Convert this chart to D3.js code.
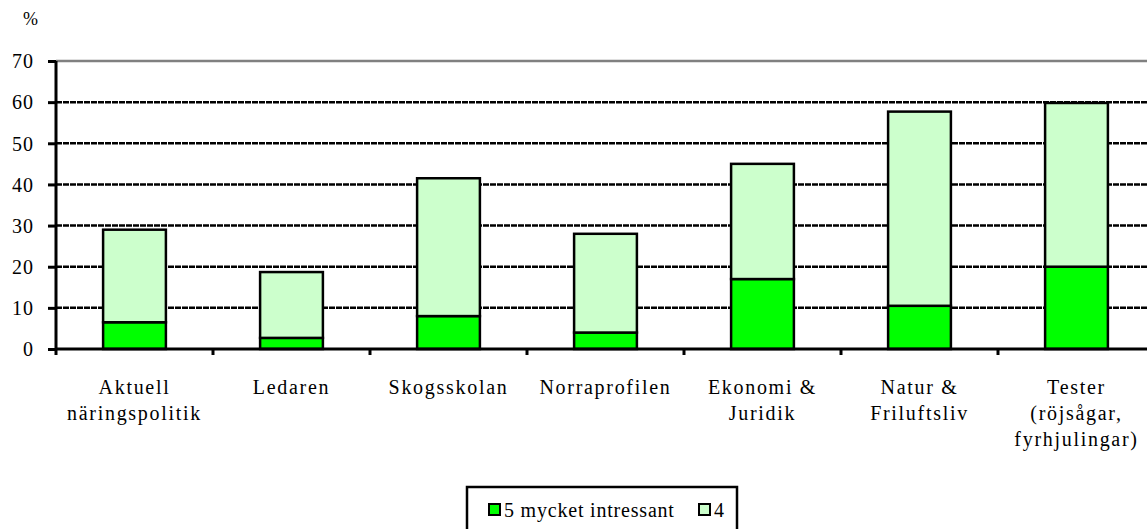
<!DOCTYPE html>
<html>
<head>
<meta charset="utf-8">
<script src="https://cdn.jsdelivr.net/npm/d3@7"></script>
<style>
  body { margin: 0; background: #fff; }
</style>
</head>
<body>
<div id="vis"></div>
<script>
// categories and values
var categories = [
  ["Aktuell", "näringspolitik"],
  ["Ledaren"],
  ["Skogsskolan"],
  ["Norraprofilen"],
  ["Ekonomi &", "Juridik"],
  ["Natur &", "Friluftsliv"],
  ["Tester", "(röjsågar,", "fyrhjulingar)"]
];
var mycket = [6.5, 2.7, 8, 4, 17, 10.5, 20];   // 5 mycket intressant
var fyra = [22.5, 16, 33.5, 24, 28, 47.2, 39.8]; // 4
var yTicks = [0, 10, 20, 30, 40, 50, 60, 70];
var seriesNames = ["5 mycket intressant", "4"];
var colors = ["#00ff00", "#ccffcc"];

var FONT = "Liberation Serif";
var W = 1147, H = 529;
var margin = { left: 56, top: 61, bottom: 180 };
var plotW = 1099; // extends slightly past the right edge, as in the source
var plotH = H - margin.top - margin.bottom;

var svg = d3.select("#vis").append("svg")
  .attr("width", W).attr("height", H);

var x = d3.scaleBand()
  .domain(d3.range(categories.length))
  .range([margin.left, margin.left + plotW])
  .paddingInner(0.6).paddingOuter(0.3);

var y = d3.scaleLinear().domain([0, 70]).range([margin.top + plotH, margin.top]);

// gridlines
svg.append("g").selectAll("line")
  .data(yTicks.filter(function(d) { return d > 0; }))
  .enter().append("line")
  .attr("x1", margin.left).attr("x2", margin.left + plotW)
  .attr("y1", function(d) { return y(d); })
  .attr("y2", function(d) { return y(d); })
  .attr("stroke", function(d) { return d === 70 ? "#808080" : "#000"; })
  .attr("stroke-width", 2.5)
  .attr("stroke-dasharray", function(d) { return d === 70 ? null : "6,1"; });

// stacked bars
var stack = d3.stack().keys([0, 1])(categories.map(function(c, i) {
  return { 0: mycket[i], 1: fyra[i] };
}));

svg.append("g").selectAll("g")
  .data(stack)
  .enter().append("g")
  .attr("fill", function(d, i) { return colors[i]; })
  .selectAll("rect")
  .data(function(d) { return d; })
  .enter().append("rect")
  .attr("x", function(d, i) { return x(i); })
  .attr("width", x.bandwidth())
  .attr("y", function(d) { return y(d[1]); })
  .attr("height", function(d) { return y(d[0]) - y(d[1]); })
  .attr("stroke", "#000")
  .attr("stroke-width", 2.5);

// y axis
var yAxis = svg.append("g")
  .attr("transform", "translate(" + margin.left + ",0)")
  .call(d3.axisLeft(y).tickValues(yTicks).tickSize(8).tickPadding(14));
yAxis.select(".domain").attr("stroke-width", 3).attr("d", "M0," + y(0) + "V" + y(70));
yAxis.selectAll(".tick line").attr("stroke-width", 3);
yAxis.selectAll(".tick text")
  .attr("font-family", FONT)
  .attr("font-size", 20)
  .attr("letter-spacing", 1)
  .attr("dy", "0.34em");

// x axis line and ticks at category boundaries
svg.append("line")
  .attr("x1", margin.left).attr("x2", margin.left + plotW)
  .attr("y1", y(0)).attr("y2", y(0))
  .attr("stroke", "#000").attr("stroke-width", 3);

var step = plotW / categories.length;
svg.append("g").selectAll("line")
  .data(d3.range(categories.length + 1))
  .enter().append("line")
  .attr("x1", function(i) { return margin.left + i * step; })
  .attr("x2", function(i) { return margin.left + i * step; })
  .attr("y1", y(0)).attr("y2", y(0) + 6)
  .attr("stroke", "#000").attr("stroke-width", 3);

// category labels
svg.append("g").selectAll("text")
  .data(categories)
  .enter().append("text")
  .attr("text-anchor", "middle")
  .attr("font-family", FONT)
  .attr("font-size", 20)
  .attr("letter-spacing", 1.7)
  .attr("transform", function(d, i) {
    return "translate(" + (x(i) + x.bandwidth() / 2) + "," + (y(0) + 45) + ")";
  })
  .selectAll("tspan")
  .data(function(d) { return d; })
  .enter().append("tspan")
  .attr("x", 0)
  .attr("dy", function(d, i) { return i === 0 ? 0 : 26; })
  .text(function(d) { return d; });

// unit label
svg.append("text")
  .attr("x", 23).attr("y", 25)
  .attr("font-family", FONT)
  .attr("font-size", 18)
  .text("%");

// legend
var legend = svg.append("g");
legend.append("rect")
  .attr("x", 467).attr("y", 487)
  .attr("width", 270).attr("height", 60)
  .attr("fill", "#fff").attr("stroke", "#000").attr("stroke-width", 2.5);

var legX = [489, 699];
seriesNames.forEach(function(name, i) {
  legend.append("rect")
    .attr("x", legX[i]).attr("y", 504)
    .attr("width", 11).attr("height", 11)
    .attr("fill", colors[i]).attr("stroke", "#000").attr("stroke-width", 2);
  legend.append("text")
    .attr("x", legX[i] + 15).attr("y", 517)
    .attr("font-family", FONT)
    .attr("font-size", 20)
    .attr("letter-spacing", 0.8)
    .text(name);
});
</script>
</body>
</html>
